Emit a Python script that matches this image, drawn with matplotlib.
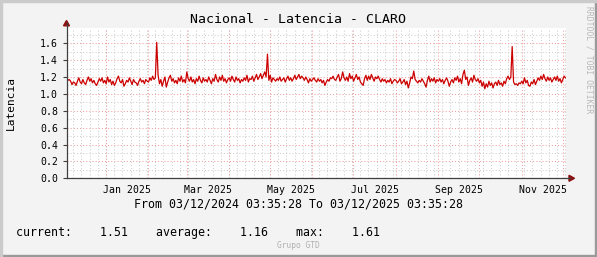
import numpy as np
import pandas as pd
import matplotlib
matplotlib.use('Agg')
import matplotlib.pyplot as plt
from matplotlib.patches import Rectangle, Polygon
from matplotlib.lines import Line2D

# data (one value per day)
inicio = '2024-12-03 03:35:28'
fin = '2025-12-03 03:35:28'
lat_dic24 = [1.17, 1.16, 1.17, 1.15, 1.11, 1.14, 1.13, 1.10, 1.15, 1.19, 1.14, 1.12, 1.17, 1.13, 1.11,
             1.16, 1.20, 1.15, 1.18, 1.13, 1.16, 1.12, 1.10, 1.14, 1.18, 1.15, 1.19, 1.13, 1.16]
lat_ene = [1.12, 1.20, 1.14, 1.17, 1.11, 1.15, 1.10, 1.13, 1.18, 1.21, 1.15, 1.13, 1.17, 1.09, 1.12, 1.16,
           1.14, 1.19, 1.15, 1.11, 1.17, 1.14, 1.13, 1.10, 1.15, 1.18, 1.14, 1.16, 1.12, 1.17, 1.15]
lat_feb = [1.14, 1.19, 1.16, 1.21, 1.17, 1.19, 1.61, 1.22, 1.12, 1.17, 1.09, 1.15, 1.20, 1.08, 1.14, 1.19,
           1.22, 1.15, 1.18, 1.13, 1.16, 1.12, 1.19, 1.15, 1.21, 1.14, 1.17, 1.13]
lat_mar = [1.26, 1.18, 1.15, 1.20, 1.14, 1.17, 1.12, 1.18, 1.15, 1.21, 1.16, 1.13, 1.19, 1.15, 1.17, 1.14,
           1.20, 1.16, 1.12, 1.18, 1.15, 1.23, 1.17, 1.14, 1.20, 1.16, 1.22, 1.15, 1.18, 1.13, 1.17]
lat_abr = [1.19, 1.15, 1.21, 1.17, 1.14, 1.20, 1.16, 1.18, 1.13, 1.17, 1.15, 1.19, 1.16, 1.22, 1.14, 1.18,
           1.17, 1.21, 1.15, 1.19, 1.23, 1.17, 1.20, 1.24, 1.18, 1.22, 1.26, 1.20, 1.47, 1.16]
lat_may = [1.22, 1.14, 1.19, 1.17, 1.15, 1.18, 1.16, 1.20, 1.15, 1.17, 1.19, 1.14, 1.18, 1.21, 1.16, 1.19,
           1.15, 1.18, 1.22, 1.17, 1.20, 1.23, 1.18, 1.21, 1.19, 1.16, 1.20, 1.17, 1.13, 1.18, 1.15]
lat_jun = [1.17, 1.19, 1.16, 1.14, 1.18, 1.15, 1.17, 1.13, 1.16, 1.10, 1.14, 1.17, 1.15, 1.19, 1.18, 1.21,
           1.17, 1.16, 1.20, 1.23, 1.15, 1.18, 1.26, 1.19, 1.16, 1.20, 1.15, 1.24, 1.18, 1.21]
lat_jul = [1.15, 1.19, 1.23, 1.17, 1.20, 1.14, 1.12, 1.10, 1.18, 1.22, 1.16, 1.21, 1.17, 1.23, 1.19, 1.15,
           1.20, 1.18, 1.21, 1.17, 1.14, 1.18, 1.15, 1.17, 1.13, 1.16, 1.14, 1.18, 1.12, 1.15, 1.17]
lat_ago = [1.16, 1.13, 1.15, 1.18, 1.12, 1.14, 1.17, 1.11, 1.15, 1.07, 1.13, 1.20, 1.18, 1.27, 1.17, 1.15,
           1.13, 1.16, 1.14, 1.18, 1.15, 1.12, 1.08, 1.16, 1.21, 1.14, 1.18, 1.15, 1.19, 1.13, 1.17]
lat_sep = [1.15, 1.18, 1.14, 1.17, 1.12, 1.16, 1.19, 1.15, 1.09, 1.14, 1.17, 1.13, 1.19, 1.16, 1.21, 1.14,
           1.18, 1.12, 1.23, 1.28, 1.17, 1.20, 1.10, 1.16, 1.19, 1.14, 1.22, 1.17, 1.15, 1.18]
lat_oct = [1.13, 1.16, 1.09, 1.14, 1.06, 1.12, 1.08, 1.15, 1.10, 1.13, 1.07, 1.12, 1.14, 1.10, 1.16, 1.11,
           1.13, 1.09, 1.15, 1.12, 1.18, 1.21, 1.17, 1.20, 1.56, 1.14, 1.11, 1.12, 1.10, 1.13, 1.12]
lat_nov = [1.15, 1.12, 1.19, 1.13, 1.16, 1.10, 1.09, 1.14, 1.12, 1.17, 1.11, 1.15, 1.19, 1.16, 1.21, 1.17,
           1.23, 1.18, 1.15, 1.20, 1.16, 1.19, 1.14, 1.17, 1.20, 1.16, 1.21, 1.15, 1.18, 1.13]
lat_dic25 = [1.17, 1.21, 1.19]

etiquetas_x = ['Jan 2025', 'Mar 2025', 'May 2025', 'Jul 2025', 'Sep 2025', 'Nov 2025']
fechas_etiq = ['2025-01-16 12:00', '2025-03-16 12:00', '2025-05-16 12:00',
               '2025-07-16 12:00', '2025-09-16 12:00', '2025-11-16 12:00']
y_ticks = [0.0, 0.2, 0.4, 0.6, 0.8, 1.0, 1.2, 1.4, 1.6]
actual, promedio, maximo = 1.51, 1.16, 1.61

latencia = (lat_dic24 + lat_ene + lat_feb + lat_mar + lat_abr + lat_may + lat_jun +
            lat_jul + lat_ago + lat_sep + lat_oct + lat_nov + lat_dic25)
dias = pd.date_range(inicio, periods=len(latencia), freq='D')

W, H = 597, 257
fig = plt.figure(figsize=(W / 100, H / 100), dpi=100, facecolor='#f3f3f3')

def fx(px):
    return px / W

def fy(py):
    return 1 - py / H

# borde tipo rrdtool
fig.patches.append(Rectangle((0, 0), 1, 2 / H, transform=fig.transFigure, color='#9a9a9a', zorder=0))
fig.patches.append(Rectangle((1 - 2 / W, 0), 2 / W, 1, transform=fig.transFigure, color='#9a9a9a', zorder=0))
fig.patches.append(Rectangle((0, 1 - 2 / H), 1, 2 / H, transform=fig.transFigure, color='#cbcbcb', zorder=0))
fig.patches.append(Rectangle((0, 0), 2 / W, 1, transform=fig.transFigure, color='#cbcbcb', zorder=0))

x0, x1, ytop, ybot = 66.5, 565.5, 27.5, 178.3
ax = fig.add_axes([fx(x0), fy(ybot), (x1 - x0) / W, (ybot - ytop) / H])
ax.set_facecolor('white')
ax.set_xlim(pd.Timestamp(inicio), pd.Timestamp(fin))
ax.set_ylim(0, 1.786)
for s in ax.spines.values():
    s.set_visible(False)

# grilla menor (cada 6 dias) y mayor (cada mes)
dots = (0, (1, 2))
for d in pd.date_range('2024-12-08', fin, freq='6D'):
    ax.axvline(d, color='#cfcfcf', lw=0.75, ls=dots, zorder=1)
for v in np.arange(0.1, 1.8, 0.2):
    ax.axhline(v, color='#cfcfcf', lw=0.75, ls=dots, zorder=1)
for d in pd.date_range('2025-01-01', fin, freq='MS'):
    ax.axvline(d, color='#f2a0a0', lw=0.75, ls=dots, zorder=2)
for v in y_ticks[1:]:
    ax.axhline(v, color='#f2a0a0', lw=0.75, ls=dots, zorder=2)

ax.plot(dias, latencia, color='#cc0000', lw=0.9, zorder=3)

mono = 'DejaVu Sans Mono'
ax.set_xticks(pd.to_datetime(fechas_etiq))
ax.set_xticklabels(etiquetas_x, family=mono, fontsize=7.1)
ax.tick_params(axis='x', length=0, pad=5)
ax.set_yticks(y_ticks)
ax.set_yticklabels([f'{v:.1f}' for v in y_ticks], family=mono, fontsize=7.1)
ax.tick_params(axis='y', length=3, width=0.8, color='#404040', pad=3)

# ejes con flechas
ejes = '#404040'
fig.add_artist(Line2D([fx(x0), fx(x0)], [fy(ybot), fy(23)], color=ejes, lw=0.9, transform=fig.transFigure))
fig.add_artist(Line2D([fx(x0), fx(570)], [fy(ybot), fy(ybot)], color=ejes, lw=0.9, transform=fig.transFigure))
fig.add_artist(Polygon([[fx(63.5), fy(25.8)], [fx(69.5), fy(25.8)], [fx(66.5), fy(20.5)]],
                       closed=True, color='#8b1010', transform=fig.transFigure))
fig.add_artist(Polygon([[fx(569), fy(175.3)], [fx(569), fy(181.3)], [fx(574.5), fy(178.3)]],
                       closed=True, color='#8b1010', transform=fig.transFigure))

fig.text(0.5, fy(19.5), 'Nacional - Latencia - CLARO', family=mono, fontsize=9.5,
         ha='center', va='center')
fig.text(fx(11), fy(103), 'Latencia', family=mono, fontsize=8, rotation=90,
         ha='center', va='center')
fig.text(fx(588.5), fy(60), 'RRDTOOL / TOBI OETIKER', family=mono, fontsize=5.8,
         rotation=270, ha='center', va='center', color='#b8b8b8')
fig.text(0.5, fy(204), f'From {pd.Timestamp(inicio):%d/%m/%Y %H:%M:%S} To {pd.Timestamp(fin):%d/%m/%Y %H:%M:%S}',
         family=mono, fontsize=8.4, ha='center', va='center')

leyenda = f'current:    {actual:.2f}    average:    {promedio:.2f}    max:    {maximo:.2f}'
fig.text(fx(16), fy(232.5), leyenda, family=mono, fontsize=8.4, ha='left', va='center')
fig.text(0.5, fy(246), 'Grupo GTD', family=mono, fontsize=5.7, ha='center', va='center',
         color='#b0b0b0')

fig.savefig('out.png', dpi=100, facecolor=fig.get_facecolor())
